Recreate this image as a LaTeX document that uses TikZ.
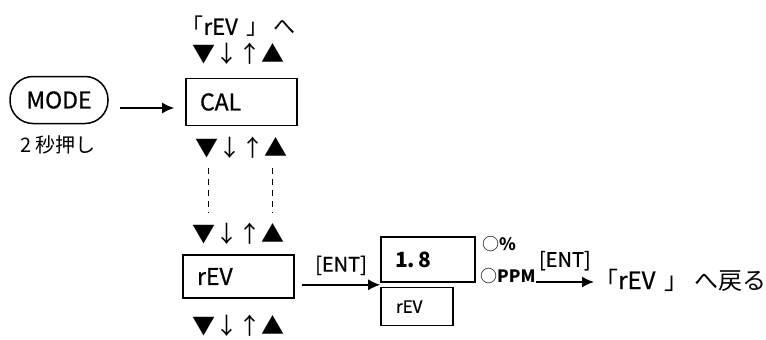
\documentclass[tikz,border=0pt]{standalone}
\usepackage{fontspec}
\setmainfont{Noto Sans CJK JP}
\newfontfamily\medio{Noto Sans CJK JP}[FakeBold=0.8]
\usetikzlibrary{positioning,arrows.meta}

\begin{document}
\begin{tikzpicture}[
  x=1pt, y=-1pt,
  font=\fontsize{23}{26}\selectfont\medio,
  node distance=6pt,
  botao/.style={draw, line width=1.5pt, rounded corners=23pt, inner sep=0pt,
                minimum width=98pt, minimum height=47pt},
  visor/.style={draw, line width=1.6pt, align=left, inner xsep=14pt,
                minimum height=47pt, text width=83pt},
  teclas/.style={inner sep=0pt, font=\fontsize{23}{26}\selectfont},
  rotulo/.style={inner sep=0pt, font=\fontsize{20}{22}\selectfont\medio},
  opcao/.style={inner sep=0pt, font=\fontsize{17}{19}\selectfont},
  seta/.style={-{Latex[length=12pt, width=11pt]}, line width=1.5pt},
  tracejado/.style={dashed, dash pattern=on 6pt off 5pt, line width=1.2pt},
]
\useasboundingbox (0,0) rectangle (766,340);

% ---- Botao MODE ----------------------------------------------------------
\node[botao] (mode) at (59,100) {MODE};
\node[inner sep=0pt, anchor=base, font=\fontsize{20}{22}\selectfont] (seg) at (58,152) {2 秒押し};

% ---- CAL ----------------------------------------------------------------
\node[visor] (cal) at (241.5,102) {CAL};
\node[teclas, above=13pt of cal, xshift=-3pt] (tcal1) {▼↓↑▲};
\node[font=\fontsize{22}{24}\selectfont, inner sep=0pt, above=6pt of tcal1] (ir)
      {「{\medio rEV}\, 」 へ};
\node[teclas, below=11pt of cal] (tcal2) {▼↓↑▲};

% ---- rEV ----------------------------------------------------------------
\node[visor, minimum height=43pt] (rev) at (238.5,276.5) {rEV};
\node[teclas, above=10pt of rev] (trev1) {▼↓↑▲};
\node[teclas, below=16pt of rev] (trev2) {▼↓↑▲};

% passos intermediarios
\draw[tracejado] ([xshift=-33pt, yshift=-9pt]tcal2.south) -- ([xshift=-33pt, yshift=9pt]tcal2.south |- trev1.north);
\draw[tracejado] ([xshift=31pt, yshift=-9pt]tcal2.south) -- ([xshift=31pt, yshift=9pt]tcal2.south |- trev1.north);

% ---- Valor --------------------------------------------------------------
\node[visor, text width=66pt, minimum height=45pt, font=\fontsize{21}{22}\selectfont\bfseries]
      (val) at (428,259.5) {1.\kern3pt 8};
\node[visor, text width=42pt, minimum height=38pt, inner xsep=15pt,
      font=\fontsize{17}{18}\selectfont\medio, below=4pt of val.south west, anchor=north west]
      (sub) {rEV};

\node[opcao, anchor=west] (pct) at ([xshift=6pt, yshift=-8pt]val.north east) {○\textbf{\%}};
\node[opcao, anchor=base west] (ppm) at (480,282) {○\textbf{PPM}};

% ---- Retorno ------------------------------------------------------------
\node[font=\fontsize{24}{26}\selectfont, inner sep=0pt, anchor=west] (volta)
      at (594,280) {「{\medio rEV}\, 」 へ戻る};

% ---- Setas --------------------------------------------------------------
\coordinate (jun) at ([yshift=-2pt]val.south west);
\draw[seta] ([xshift=11pt, yshift=-8pt]mode.east) -- ([xshift=-11pt, yshift=-6pt]cal.west);
\draw[seta] ([xshift=7pt]rev.east |- jun) -- node[rotulo, above=9pt] {[ENT]} (jun);
\draw[seta] (ppm.base east) -- node[rotulo, above=11pt] {[ENT]} (volta.west |- ppm.base east);

\end{tikzpicture}
\end{document}
